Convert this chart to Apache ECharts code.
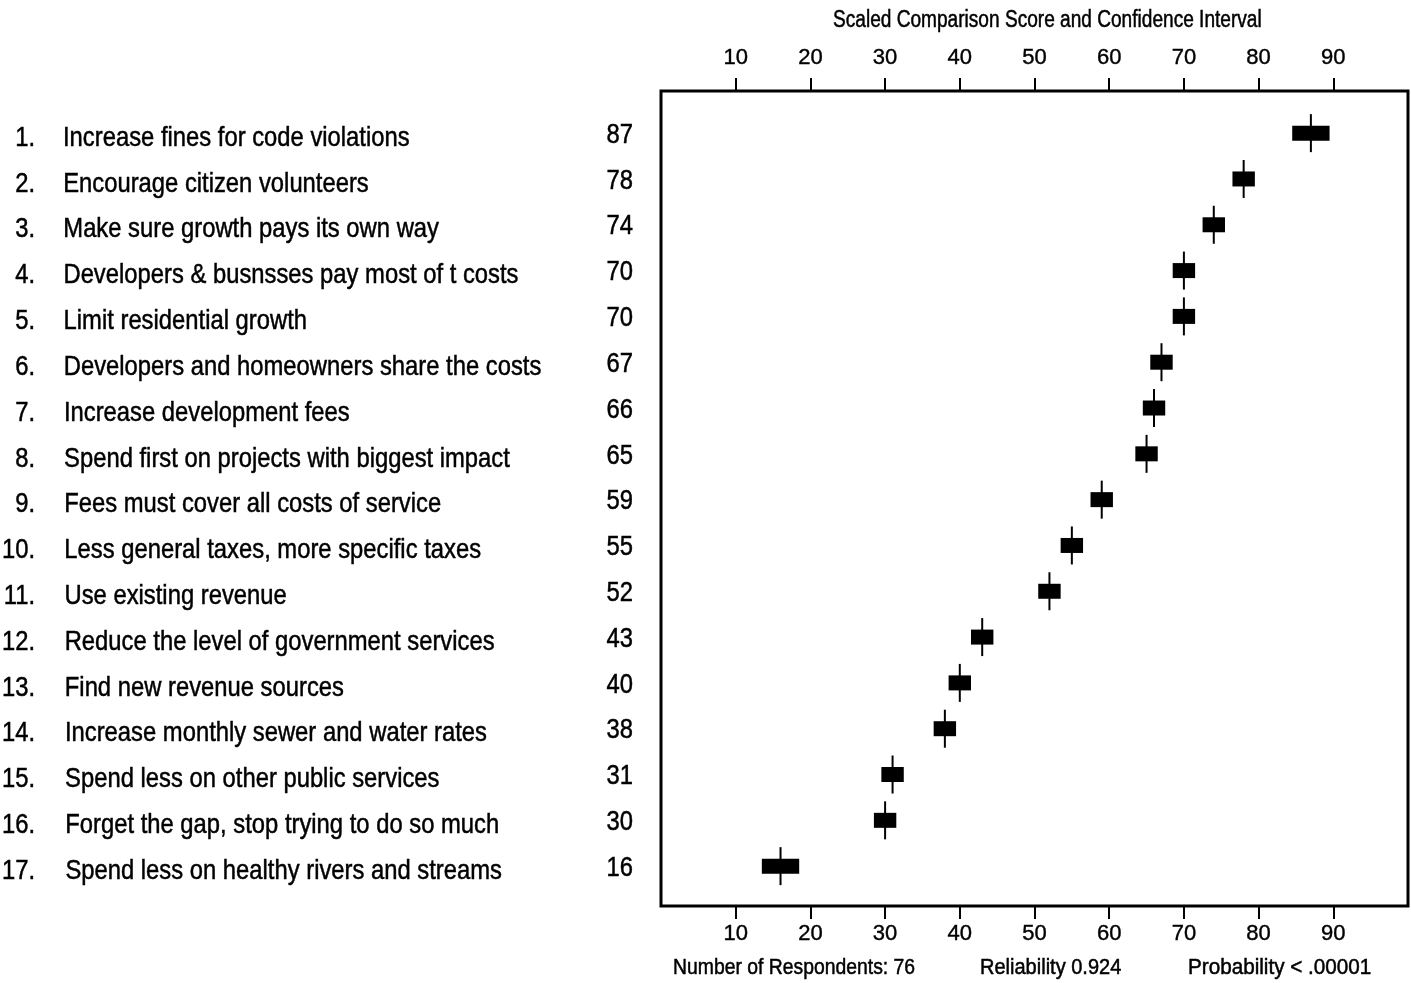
<!DOCTYPE html>
<html>
<head>
<meta charset="utf-8">
<title>Scaled Comparison Score and Confidence Interval</title>
<script src="https://cdn.jsdelivr.net/npm/echarts@6/dist/echarts.min.js"></script>
<style>
  html, body { margin: 0; padding: 0; background: #fff; }
  #chart { width: 1411px; height: 983px; }
</style>
</head>
<body>
<div id="chart"></div>
<script>
// Priority items, in rank order
const items = [
  'Increase fines for code violations',
  'Encourage citizen volunteers',
  'Make sure growth pays its own way',
  'Developers & busnsses pay most of t costs',
  'Limit residential growth',
  'Developers and homeowners share the costs',
  'Increase development fees',
  'Spend first on projects with biggest impact',
  'Fees must cover all costs of service',
  'Less general taxes, more specific taxes',
  'Use existing revenue',
  'Reduce the level of government services',
  'Find new revenue sources',
  'Increase monthly sewer and water rates',
  'Spend less on other public services',
  'Forget the gap, stop trying to do so much',
  'Spend less on healthy rivers and streams'
];

// Scaled comparison scores
const scores = [87, 78, 74, 70, 70, 67, 66, 65, 59, 55, 52, 43, 40, 38, 31, 30, 16];

// Confidence interval bounds
const ciLow  = [84.5, 76.5, 72.5, 68.5, 68.5, 65.5, 64.5, 63.5, 57.5, 53.5, 50.5, 41.5, 38.5, 36.5, 29.5, 28.5, 13.5];
const ciHigh = [89.5, 79.5, 75.5, 71.5, 71.5, 68.5, 67.5, 66.5, 60.5, 56.5, 53.5, 44.5, 41.5, 39.5, 32.5, 31.5, 18.5];

// Scale tick values
const scaleTicks = [10, 20, 30, 40, 50, 60, 70, 80, 90];

// Header and footer text
const scaleTitle = 'Scaled Comparison Score and Confidence Interval';
const footnotes = ['Number of Respondents: 76', 'Reliability 0.924', 'Probability < .00001'];

// Condensed look: Liberation Sans squeezed horizontally, lightly outlined for weight
const FONT = "'Liberation Sans', Arial, sans-serif";
const SQUEEZE = 0.85;

const chart = echarts.init(document.getElementById('chart'), null, { renderer: 'canvas' });

const markData = items.map((_, i) => [scores[i], i + 1, ciLow[i], ciHigh[i]]);
const labelData = items.map((_, i) => [0, i + 1]);

const xAxisBase = {
  type: 'value',
  min: 0,
  max: 100,
  interval: 10,
  axisLine: { show: false },
  splitLine: { show: false },
  axisTick: {
    show: true,
    inside: false,
    length: 13,
    customValues: scaleTicks,
    lineStyle: { color: '#000', width: 2 }
  },
  axisLabel: {
    customValues: scaleTicks,
    color: '#000',
    fontFamily: FONT,
    fontSize: 22,
    textBorderColor: '#000',
    textBorderWidth: 0.4
  }
};

function squeezedText(text, x, y, size, align, scale) {
  return {
    type: 'text',
    x: x, y: y,
    scaleX: scale,
    silent: true,
    style: {
      text: text,
      font: size + 'px ' + FONT,
      fill: '#000',
      stroke: '#000',
      lineWidth: 0.5,
      textAlign: align,
      textVerticalAlign: 'middle'
    }
  };
}

const option = {
  backgroundColor: '#fff',
  animation: false,
  grid: {
    show: true,
    left: 661,
    right: 3,
    top: 91,
    bottom: 77,
    borderColor: '#000',
    borderWidth: 3,
    backgroundColor: 'transparent',
    containLabel: false,
    outerBoundsMode: 'none'
  },
  xAxis: [
    Object.assign({}, xAxisBase, {
      position: 'top',
      axisLabel: Object.assign({}, xAxisBase.axisLabel, { margin: 22 })
    }),
    Object.assign({}, xAxisBase, {
      position: 'bottom',
      axisLabel: Object.assign({}, xAxisBase.axisLabel, { margin: 17 })
    })
  ],
  yAxis: {
    type: 'value',
    inverse: true,
    min: 0.08,
    max: 17.87,
    axisLine: { show: false },
    axisTick: { show: false },
    splitLine: { show: false },
    axisLabel: { show: false }
  },
  graphic: [
    squeezedText(scaleTitle, 833, 21, 23, 'left', 0.83),
    squeezedText(footnotes[0], 673, 968, 22, 'left', 0.88),
    squeezedText(footnotes[1], 980, 968, 22, 'left', 0.91),
    squeezedText(footnotes[2], 1188, 968, 22, 'left', 0.94)
  ],
  series: [
    {
      // Score marks: confidence-interval box with a tick at the score
      type: 'custom',
      xAxisIndex: 0,
      yAxisIndex: 0,
      data: markData,
      clip: false,
      silent: true,
      renderItem: function (params, api) {
        const score = api.value(0), row = api.value(1);
        const lo = api.coord([api.value(2), row]);
        const hi = api.coord([api.value(3), row]);
        const mid = api.coord([score, row]);
        const boxH = 15, lineHalf = 19;
        return {
          type: 'group',
          children: [
            {
              type: 'rect',
              shape: { x: lo[0], y: mid[1] - boxH / 2, width: hi[0] - lo[0], height: boxH },
              style: { fill: '#000' }
            },
            {
              type: 'line',
              shape: { x1: mid[0], y1: mid[1] - lineHalf, x2: mid[0], y2: mid[1] + lineHalf },
              style: { stroke: '#000', lineWidth: 2 }
            }
          ]
        };
      }
    },
    {
      // Row labels: rank, item text and score
      type: 'custom',
      xAxisIndex: 0,
      yAxisIndex: 0,
      data: labelData,
      clip: false,
      silent: true,
      renderItem: function (params, api) {
        const i = params.dataIndex;
        const y = api.coord([0, api.value(1)])[1];
        return {
          type: 'group',
          children: [
            squeezedText((i + 1) + '.', 35, y + 5, 28, 'right', SQUEEZE),
            squeezedText(items[i], 63 + i * 0.15, y + 5, 28, 'left', SQUEEZE),
            squeezedText(String(scores[i]), 633, y + 2, 28, 'right', SQUEEZE)
          ]
        };
      }
    }
  ]
};

chart.setOption(option);
</script>
</body>
</html>
